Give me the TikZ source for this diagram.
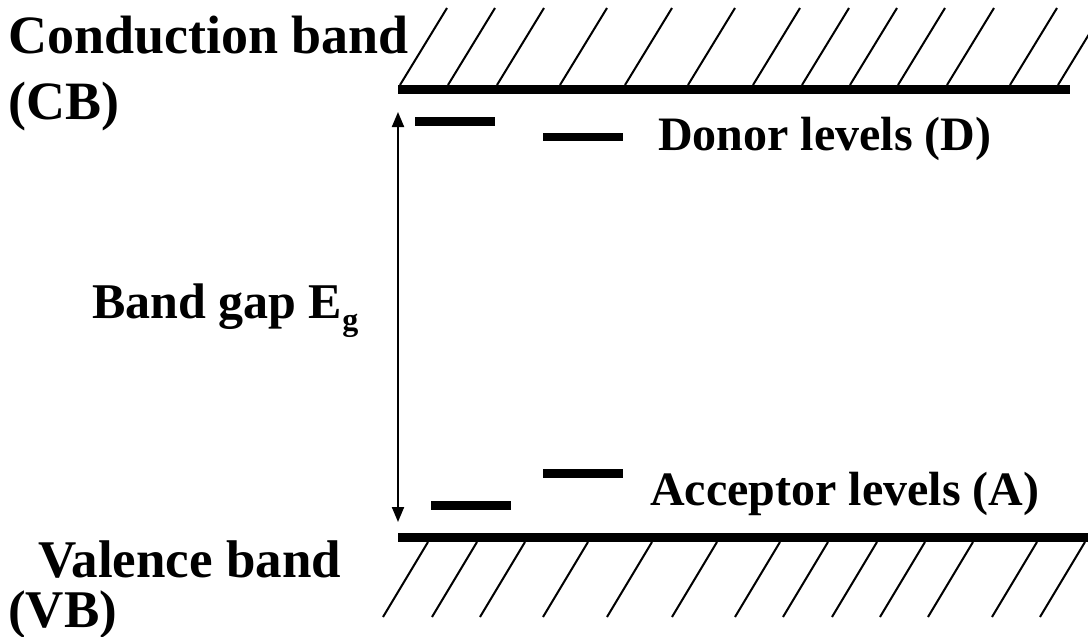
\documentclass[tikz,border=0pt]{standalone}
\usepackage{fontspec}
\setmainfont{Liberation Serif}
\usetikzlibrary{arrows.meta}
\begin{document}
\begin{tikzpicture}[x=1pt,y=-1pt,
  band/.style={line width=8.5pt},
  level/.style={line width=8.5pt},
  hatch/.style={line width=2pt},
  lbl/.style={anchor=base west, inner sep=0pt, font=\fontsize{54}{60}\selectfont\bfseries},
  vlbl/.style={anchor=south west, inner sep=0pt, align=left, font=\fontsize{53}{50}\selectfont\bfseries},
  mlbl/.style={anchor=base west, inner sep=0pt, font=\fontsize{50}{60}\selectfont\bfseries},
  rlbl/.style={anchor=base west, inner sep=0pt, font=\fontsize{48}{58}\selectfont\bfseries},
  gap/.style={line width=2pt, {Triangle[length=15pt,width=12pt]}-{Triangle[length=15pt,width=12pt]}}]
\useasboundingbox (0,0) rectangle (1088,637);
\begin{scope}
\clip (0,0) rectangle (1088,637);
\foreach \b in {400,448,497,560,625,688,753,802,850,898,947,1010,1058}
  \draw[hatch] (\b,85) -- ++(47,-77);
\foreach \t in {428,477,525,588,652,717,780,828,877,925,973,1037,1085}
  \draw[hatch] (\t,542) -- ++(-45,75);
\end{scope}
\coordinate (cbL) at (398,89.5);
\coordinate (cbR) at (1070,89.5);
\coordinate (vbL) at (398,537.5);
\coordinate (vbR) at (1088,537.5);
\draw[band] (cbL) -- (cbR);
\draw[band] (vbL) -- (vbR);
\coordinate (gtop) at (398,112);
\coordinate (gbot) at (398,522);
\draw[gap] (gtop) -- (gbot);
\coordinate (d1a) at (415,121.5);
\coordinate (d1b) at (495,121.5);
\coordinate (d2a) at (543,137);
\coordinate (d2b) at (623,137);
\coordinate (a1a) at (543,473.5);
\coordinate (a1b) at (623,473.5);
\coordinate (a2a) at (431,505.5);
\coordinate (a2b) at (511,505.5);
\draw[level] (d1a) -- (d1b);
\draw[level] (d2a) -- (d2b);
\draw[level] (a1a) -- (a1b);
\draw[level] (a2a) -- (a2b);
\node[lbl] (cb1) at (8,53) {Conduction band};
\node[lbl] (cb2) at (8,119) {(CB)};
\node[mlbl] (eg) at (92,318) {Band gap E\raisebox{-12pt}{\fontsize{32}{32}\selectfont g}};
\node[vlbl] (vb) at (8,639) {\hspace*{30pt}Valence band\\(VB)};
\node[rlbl] (don) at (658,150) {Donor levels (D)};
\node[rlbl] (acc) at (650,505) {Acceptor levels (A)};
\end{tikzpicture}
\end{document}
